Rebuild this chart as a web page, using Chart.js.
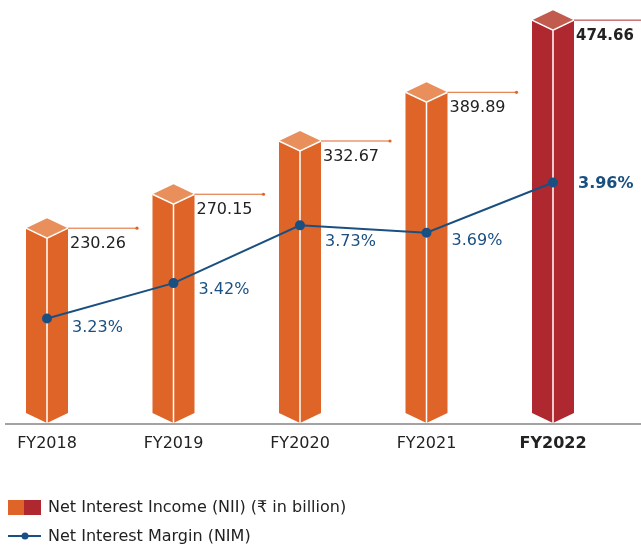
<!DOCTYPE html>
<html>
<head>
<meta charset="utf-8">
<script src="https://cdn.jsdelivr.net/npm/chart.js@4/dist/chart.umd.min.js"></script>
<style>
  body { margin: 0; background: #fff; }
  canvas { display: block; }
</style>
</head>
<body>
<canvas id="nii-chart" width="641" height="548"></canvas>
<script>
const years = ['FY2018', 'FY2019', 'FY2020', 'FY2021', 'FY2022'];
const niiValues = [230.26, 270.15, 332.67, 389.89, 474.66]; // ₹ in billion
const nimValues = [3.23, 3.42, 3.73, 3.69, 3.96]; // %
const niiLabel = 'Net Interest Income (NII) (₹ in billion)';
const nimLabel = 'Net Interest Margin (NIM)';

// vertical nudge of each NIM label below its point
const nimLabelShift = [9, 7, 17, 8, 1];

const FONT = 'DejaVu Sans';
const orange = '#df6428';
const orangeTop = '#e88f5c';
const red = '#b0282f';
const redTop = '#c15b4e';
const navy = '#1a4f82';
const depth = 10; // half height of the box lid

const prismPlugin = {
    id: 'prism',
    beforeDatasetsDraw(chart) {
        // base line, wider than the plot area
        const ctx = chart.ctx;
        const y = chart.chartArea.bottom;
        ctx.save();
        ctx.strokeStyle = '#a3a3a3';
        ctx.lineWidth = 2;
        ctx.beginPath();
        ctx.moveTo(5, y);
        ctx.lineTo(chart.width, y);
        ctx.stroke();
        ctx.restore();
    },
    beforeDatasetDraw(chart, args) {
        if (args.meta.type !== 'bar') return;
        const ctx = chart.ctx;
        const bottom = chart.chartArea.bottom - 1;
        args.meta.data.forEach((bar, i) => {
            const last = i === years.length - 1;
            const front = last ? red : orange;
            const lid = last ? redTop : orangeTop;
            const half = bar.width / 2;
            const cx = bar.x;
            const top = bar.y;
            ctx.save();
            // two side faces
            ctx.fillStyle = front;
            ctx.beginPath();
            ctx.moveTo(cx - half, top - depth);
            ctx.lineTo(cx, top);
            ctx.lineTo(cx + half, top - depth);
            ctx.lineTo(cx + half, bottom - depth);
            ctx.lineTo(cx, bottom);
            ctx.lineTo(cx - half, bottom - depth);
            ctx.closePath();
            ctx.fill();
            // lid
            ctx.fillStyle = lid;
            ctx.beginPath();
            ctx.moveTo(cx - half, top - depth);
            ctx.lineTo(cx, top - 2 * depth);
            ctx.lineTo(cx + half, top - depth);
            ctx.lineTo(cx, top);
            ctx.closePath();
            ctx.fill();
            // white edges
            ctx.strokeStyle = '#ffffff';
            ctx.lineWidth = 1.5;
            ctx.beginPath();
            ctx.moveTo(cx - half, top - depth);
            ctx.lineTo(cx, top);
            ctx.lineTo(cx + half, top - depth);
            ctx.moveTo(cx, top);
            ctx.lineTo(cx, bottom);
            ctx.stroke();
            // leader line with end dot
            const lx = cx + half + 69;
            ctx.strokeStyle = front;
            ctx.lineWidth = 1;
            ctx.beginPath();
            ctx.moveTo(cx + half, top - depth);
            ctx.lineTo(lx, top - depth);
            ctx.stroke();
            ctx.fillStyle = front;
            ctx.beginPath();
            ctx.arc(lx, top - depth, 1.6, 0, Math.PI * 2);
            ctx.fill();
            // value
            ctx.fillStyle = '#222222';
            ctx.font = last ? 'bold 15px "' + FONT + '"' : '16px "' + FONT + '"';
            ctx.textBaseline = 'middle';
            ctx.textAlign = 'left';
            ctx.fillText(niiValues[i].toFixed(2), cx + half + 2, top + 6);
            ctx.restore();
        });
        return false;
    },
    afterDatasetsDraw(chart) {
        const ctx = chart.ctx;
        const meta = chart.getDatasetMeta(1);
        ctx.save();
        ctx.fillStyle = navy;
        ctx.textBaseline = 'middle';
        meta.data.forEach((pt, i) => {
            const last = i === years.length - 1;
            ctx.font = (last ? 'bold ' : '') + '16px "' + FONT + '"';
            ctx.fillText(nimValues[i].toFixed(2) + '%', pt.x + 25, pt.y + nimLabelShift[i]);
        });
        ctx.restore();
    },
    afterDraw(chart) {
        // legend, stacked at bottom left
        const ctx = chart.ctx;
        ctx.save();
        ctx.fillStyle = orange;
        ctx.fillRect(8, 500, 16, 15);
        ctx.fillStyle = red;
        ctx.fillRect(24, 500, 17, 15);
        ctx.strokeStyle = navy;
        ctx.lineWidth = 2;
        ctx.beginPath();
        ctx.moveTo(8, 536);
        ctx.lineTo(41, 536);
        ctx.stroke();
        ctx.fillStyle = navy;
        ctx.beginPath();
        ctx.arc(25, 536, 3.5, 0, Math.PI * 2);
        ctx.fill();
        ctx.fillStyle = '#222222';
        ctx.font = '16px "' + FONT + '"';
        ctx.textBaseline = 'middle';
        ctx.fillText(niiLabel, 48, 508);
        ctx.fillText(nimLabel, 48, 537);
        ctx.restore();
    }
};

const ctx = document.getElementById('nii-chart').getContext('2d');
const myChart = new Chart(ctx, {
    data: {
        labels: years,
        datasets: [
            {
                type: 'bar',
                label: niiLabel,
                data: niiValues,
                backgroundColor: orange,
                barThickness: 42,
                yAxisID: 'y',
                order: 1,
            },
            {
                type: 'line',
                label: nimLabel,
                data: nimValues,
                borderColor: navy,
                backgroundColor: navy,
                pointBackgroundColor: navy,
                borderWidth: 2,
                pointRadius: 4,
                yAxisID: 'y2',
                order: 0,
            },
        ],
    },
    options: {
        responsive: false,
        animation: false,
        layout: { padding: { left: 47, right: 88, top: 0, bottom: 0 } },
        plugins: {
            legend: { display: false },
            tooltip: { enabled: false },
        },
        scales: {
            x: {
                offset: false,
                grid: { display: false, drawTicks: false },
                border: { display: false },
                ticks: {
                    padding: 10,
                    color: '#222222',
                    font: (c) => ({
                        family: FONT,
                        size: 16,
                        weight: c.index === years.length - 1 ? 'bold' : 'normal',
                    }),
                },
                afterFit: (scale) => { scale.height = 124; },
            },
            y: { display: false, min: 12, max: 503 },
            y2: { display: false, min: 2.664, max: 4.907 },
        },
    },
    plugins: [prismPlugin],
});
</script>
</body>
</html>
